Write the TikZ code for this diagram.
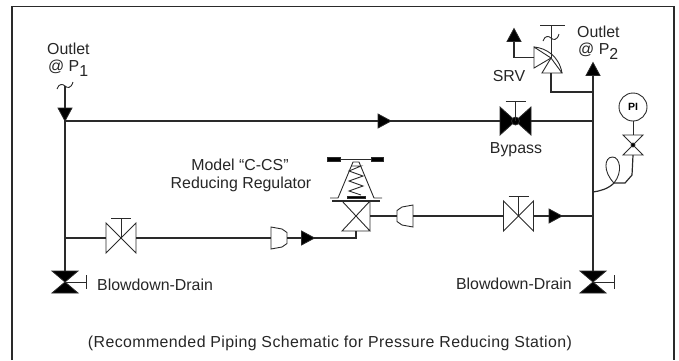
\documentclass[tikz,border=0pt]{standalone}
\usepackage{fontspec}
\setmainfont{Liberation Sans}
\definecolor{pipegray}{HTML}{2A2A2A}
\tikzset{
	pipeline/.style={draw=pipegray,line width=1.2pt,line join=miter},
	thinline/.style={draw=pipegray,line width=0.9pt},
	solid fill/.style={draw=pipegray,fill=black,line width=0.8pt},
	lbl/.style={inner sep=0pt,text=black!85,font=\fontsize{15.9}{18}\selectfont},
	portbox/.style 2 args={inner sep=0pt,minimum width=#1pt,minimum height=#2pt},
	flowarrow/.pic={\path[solid fill] (-6.5,-7) -- (6.5,0) -- (-6.5,7) -- cycle;},
	wiggle/.pic={\draw[thinline] (-8,3) .. controls (-6,-3) and (-2,-2) .. (0,0) .. controls (2,2) and (6,3) .. (8,-4);},
	gatevalve/.pic={
		\draw[thinline] (-15,-15) -- (15,15) -- (15,-15) -- (-15,15) -- cycle;
		\draw[thinline] (0,0) -- (0,-20);
		\draw[thinline] (-10,-20) -- (10,-20);
	},
	bypassvalve/.pic={
		\path[solid fill] (-15.5,-14) -- (15.5,14) -- (15.5,-14) -- (-15.5,14) -- cycle;
		\path[solid fill] (0,0) circle (4);
		\draw[thinline] (0,0) -- (0,-20);
		\draw[thinline] (-10,-20) -- (10,-20);
	},
	drainvalve/.pic={
		\path[solid fill] (-13,-11) -- (13,-11) -- (-13,11) -- (13,11) -- cycle;
		\draw[thinline] (0,0) -- (21,0);
		\draw[thinline] (21,-7) -- (21,7);
	},
	needlevalve/.pic={
		\draw[thinline] (-10,-10) -- (10,-10) -- (-10,10) -- (10,10) -- cycle;
		\path[solid fill] (0,0) circle (2);
	},
	reducer/.pic={\draw[thinline] (-8,-11) -- (3,-9) -- (8,-5.5) -- (8,5.5) -- (3,9) -- (-8,11) -- cycle;},
	reliefvalve/.pic={
		\draw[thinline] (0,0) -- (-9,15) -- (11,15) -- cycle;
		\draw[thinline] (0,0) -- (-17,-11) -- (-17,10) -- cycle;
		\draw[thinline] (-17,-11) .. controls (-5,-10) and (8,-2) .. (11,15);
		\draw[thinline] (0,0) -- (0,-33);
		\draw[thinline] (-11,-33) -- (14,-33);
		\pic at (0,-20) {wiggle};
	},
	regulator/.pic={
		\draw[thinline] (-14,-15) -- (14,15) -- (-14,15) -- (14,-15) -- (14,15);
		\draw[pipeline] (-24,-15) -- (24,-15);
		\draw[thinline] (-26,-18) -- (-18,-18) -- (-3,-54) -- (3,-54) -- (18,-18) -- (26,-18);
		\draw[thinline] (-29,-57) -- (27,-57);
		\path[solid fill] (-29,-59) rectangle (-16,-55);
		\path[solid fill] (15,-59) rectangle (27,-55);
		\draw[thinline] (-5,-50) -- (5,-50) -- (-7,-45) -- (7,-40) -- (-7,-35) -- (7,-30) -- (-7,-25) -- (5,-21);
		\path[solid fill] (-9,-20) rectangle (9,-18);
	}
}
\begin{document}
\begin{tikzpicture}[x=1pt,y=-1pt]
\useasboundingbox (0,0) rectangle (679,360);
\draw[pipeline] (12,360) -- (12,6.5) -- (674,6.5) -- (674,360);

\coordinate (leftTop) at (65,86);
\coordinate (leftMain) at (65,121);
\coordinate (leftLow) at (65,238);
\coordinate (rightTop) at (593,69);
\coordinate (rightSrv) at (593,92);
\coordinate (rightMain) at (593,121);
\coordinate (rightLow) at (593,216);
\coordinate (rightCoil) at (593,192);
\coordinate (coilCross) at (614,183);
\coordinate (srvSide) at (534,57.5);
\coordinate (srvLow) at (551,73);
\coordinate (srvTop) at (514,35);

\node[portbox={31}{28}] (bypass) at (515.5,121) {};
\node[portbox={30}{30}] (lowvalve) at (121,238) {};
\node[portbox={30}{30}] (highvalve) at (518.5,216) {};
\node[portbox={16}{22}] (reducerA) at (279,238) {};
\node[portbox={16}{22}] (reducerB) at (405,216) {};
\node[portbox={28}{30}] (regvalve) at (356,216) {};
\node[portbox={26}{22}] (drainA) at (65,282) {};
\node[portbox={26}{22}] (drainB) at (593,282) {};
\node[portbox={20}{20}] (gaugevalve) at (633,145) {};
\node[circle,thinline,draw,minimum size=28pt,inner sep=0pt,font=\bfseries\fontsize{10.5}{12}\selectfont] (gauge) at (633,107) {PI};

\draw[pipeline] (leftTop) -- (drainA.north);
\draw[pipeline] (rightTop) -- (drainB.north);
\draw[pipeline] (leftMain) -- (bypass.west);
\draw[pipeline] (bypass.east) -- (rightMain);
\draw[pipeline] (leftLow) -- (lowvalve.west);
\draw[pipeline] (lowvalve.east) -- (reducerA.west);
\draw[pipeline] (reducerA.east) -| (regvalve.south);
\draw[pipeline] (regvalve.east) -- (reducerB.west);
\draw[pipeline] (reducerB.east) -- (highvalve.west);
\draw[pipeline] (highvalve.east) -- (rightLow);
\draw[pipeline] (srvLow) |- (rightSrv);
\draw[pipeline] (srvSide) -| (srvTop);
\draw[thinline] (gauge.south) -- (gaugevalve.north);
\draw[pipeline] (gaugevalve.south) -- (632,175) -- (625,183) -- (coilCross);
\draw[thinline] (coilCross) .. controls (603,172) and (604,157) .. (612.5,157) .. controls (620,157) and (623,172) .. (coilCross);
\draw[pipeline] (coilCross) .. controls (608,189) and (600,191) .. (rightCoil);

\pic at (bypass) {bypassvalve};
\pic at (lowvalve) {gatevalve};
\pic at (highvalve) {gatevalve};
\pic at (reducerA) {reducer};
\pic[xscale=-1] at (reducerB) {reducer};
\pic at (regvalve) {regulator};
\pic at (drainA) {drainvalve};
\pic at (drainB) {drainvalve};
\pic at (gaugevalve) {needlevalve};
\pic at (551,58) {reliefvalve};
\pic at (65,86) {wiggle};
\pic[rotate=-90] at (65,114.5) {flowarrow};
\pic[rotate=90] at (rightTop) {flowarrow};
\pic[rotate=90] at (srvTop) {flowarrow};
\pic at (384.5,121) {flowarrow};
\pic at (308,238) {flowarrow};
\pic at (555.5,216) {flowarrow};

\node[lbl,anchor=base west] (outletA) at (47,54) {Outlet};
\node[lbl,anchor=base west] (pressA) at (48,71) {@ P\raisebox{-5.5pt}{1}};
\node[lbl,anchor=base west] (outletB) at (577,37) {Outlet};
\node[lbl,anchor=base west] (pressB) at (578,54) {@ P\raisebox{-5.5pt}{2}};
\node[lbl,anchor=base] (srvText) at (509,81) {SRV};
\node[lbl,anchor=base] (bypassText) at (516,153) {Bypass};
\node[lbl,anchor=base] (modelText) at (240,170) {Model “C-CS”};
\node[lbl,anchor=base] (regText) at (241,188) {Reducing Regulator};
\node[lbl,anchor=base west] (drainTextA) at (97,290) {Blowdown-Drain};
\node[lbl,anchor=base east] (drainTextB) at (572,289) {Blowdown-Drain};
\node[lbl,anchor=base] (caption) at (330,347) {\addfontfeature{LetterSpace=2.6}(Recommended Piping Schematic for Pressure Reducing Station)};
\end{tikzpicture}
\end{document}
